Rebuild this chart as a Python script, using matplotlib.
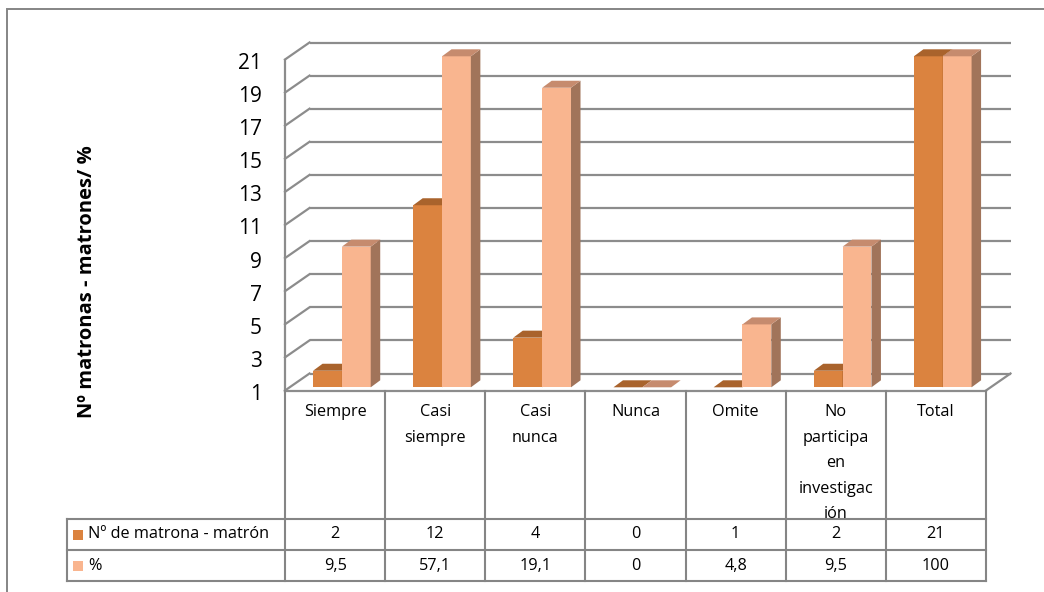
import matplotlib
matplotlib.use("Agg")
import matplotlib.pyplot as plt
from matplotlib.patches import Polygon, Rectangle

# ---- data -------------------------------------------------------------
categories = ["Siempre", "Casi\nsiempre", "Casi\nnunca", "Nunca", "Omite",
              "No\nparticipa\nen\ninvestigac\nión", "Total"]
series_names = ["Nº de matrona - matrón", "%"]
n_matronas = [2, 12, 4, 0, 1, 2, 21]
percent = [9.5, 57.1, 19.1, 0, 4.8, 9.5, 100]
y_ticks = list(range(1, 22, 2))
y_title = "Nº matronas - matrones/ %"

# ---- style ------------------------------------------------------------
FONT = "Open Sans"
front_cols = ["#DB833F", "#F9B58F"]
top_cols = ["#A9632C", "#C68B6E"]
side_cols = ["#A45E29", "#A1745A"]
grid_col = "#8C8C8C"
line_col = "#858585"

W, H = 1044, 592
fig = plt.figure(figsize=(W / 100, H / 100), dpi=100)
fig.patch.set_facecolor("white")

# outer frame of the chart area
fig.add_artist(Rectangle((7 / W, -0.1), 1.2, 1.1 - 9 / H, transform=fig.transFigure,
                         fill=False, edgecolor=line_col, lw=1.4))

# ---- plot area (front plane of the 3-D box) ---------------------------
x0_px, x1_px = 285, 986
y_lo_px, y_hi_px = 390.5, 59.5
ax = fig.add_axes([x0_px / W, (H - y_lo_px) / H, (x1_px - x0_px) / W, (y_lo_px - y_hi_px) / H])
ncat = len(categories)
ax.set_xlim(0, ncat)
ax.set_ylim(y_ticks[0], y_ticks[-1])
ux = (x1_px - x0_px) / ncat          # px per category
uy = (y_lo_px - y_hi_px) / (y_ticks[-1] - y_ticks[0])  # px per value unit

ax.set_xticks([])
ax.set_yticks([])
for s in ("top", "right"):
    ax.spines[s].set_visible(False)
for s in ("left", "bottom"):
    ax.spines[s].set_color(grid_col)
    ax.spines[s].set_linewidth(1.6)
    ax.spines[s].set_zorder(5)
ax.patch.set_alpha(0)

# wall depth
wdx, wdy = 24.5 / ux, 17 / uy
for v in y_ticks:
    ax.plot([wdx, ncat + wdx], [v + wdy, v + wdy], color=grid_col, lw=1.6,
            clip_on=False, zorder=1, solid_capstyle="butt")
    ax.plot([0, wdx], [v, v + wdy], color=grid_col, lw=1.6, clip_on=False, zorder=1)
ax.plot([ncat, ncat + wdx], [y_ticks[0], y_ticks[0] + wdy], color=grid_col, lw=1.6,
        clip_on=False, zorder=1)

for v in y_ticks:
    ax.text(-23 / ux, v - 4 / uy, str(v), ha="right", va="center", fontsize=15,
            family=FONT)

title_y = y_ticks[0] + (y_lo_px - 282) / uy
ax.text(-198 / ux, title_y, y_title, rotation=90, ha="center", va="center",
        fontsize=14.5, fontweight="bold", family=FONT)

# ---- 3-D columns ------------------------------------------------------
bar_off, bar_w = 0.28, 0.288
shift_y = 3.2 / uy
bdx, bdy = 9.5 / ux, 7 / uy
base = y_ticks[0]
z = 3
for i in range(ncat):
    for k, vals in enumerate((n_matronas, percent)):
        v = min(max(vals[i], base), y_ticks[-1])
        xl = i + bar_off + k * bar_w
        xr = xl + bar_w
        yb = base + shift_y
        yt = v + shift_y
        if yt > yb:
            ax.add_patch(Rectangle((xl, yb), bar_w, yt - yb, facecolor=front_cols[k],
                                   edgecolor="none", zorder=z, clip_on=False))
            ax.add_patch(Polygon([(xr, yb), (xr, yt), (xr + bdx, yt + bdy), (xr + bdx, yb + bdy)],
                                 closed=True, facecolor=side_cols[k], edgecolor="none",
                                 zorder=z, clip_on=False))
        ax.add_patch(Polygon([(xl, yt), (xr, yt), (xr + bdx, yt + bdy), (xl + bdx, yt + bdy)],
                             closed=True, facecolor=top_cols[k], edgecolor="none",
                             zorder=z, clip_on=False))
        z += 0.01

# ---- data table -------------------------------------------------------
t_top, r1, r2, t_bot = 390.5, 519, 550, 581
leg_left = 67
tx = fig.add_axes([leg_left / W, (H - t_bot) / H, (x1_px - leg_left) / W, (t_bot - t_top) / H])
xl_tab = -(x0_px - leg_left) / ux
tx.set_xlim(xl_tab, ncat)
tx.set_ylim(t_bot - t_top, 0)
tx.axis("off")
ya, yb_, yc = r1 - t_top, r2 - t_top, t_bot - t_top
lk = dict(color=line_col, lw=1.5, clip_on=False, solid_capstyle="projecting")
for i in range(ncat + 1):
    tx.plot([i, i], [0, yc], **lk)
tx.plot([xl_tab, xl_tab], [ya, yc], **lk)
for yy in (ya, yb_, yc):
    tx.plot([xl_tab, ncat], [yy, yy], **lk)

TS = 11.7
for i, c in enumerate(categories):
    tx.text(i + 0.5, 14, c, ha="center", va="top", fontsize=TS, family=FONT,
            linespacing=1.78)


def fmt(v):
    return f"{v:g}".replace(".", ",")


row_mid = [(ya + yb_) / 2, (yb_ + yc) / 2]
for k, vals in enumerate((n_matronas, percent)):
    for i, v in enumerate(vals):
        tx.text(i + 0.5, row_mid[k], fmt(v), ha="center", va="center", fontsize=TS,
                family=FONT)
    tx.add_patch(Rectangle(((73 - x0_px) / ux, row_mid[k] - 5), 10 / ux, 10,
                           facecolor=front_cols[k], edgecolor="none", clip_on=False))
    tx.text((88 - x0_px) / ux, row_mid[k], series_names[k], ha="left", va="center",
            fontsize=TS, family=FONT)

fig.savefig("out.png", dpi=100, facecolor="white")
